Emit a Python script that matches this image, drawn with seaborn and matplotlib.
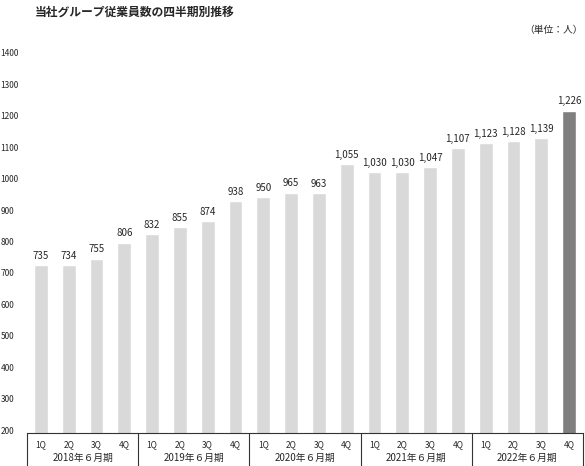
import matplotlib
matplotlib.use("Agg")
import matplotlib.pyplot as plt
import matplotlib.transforms as mtransforms
import pandas as pd
import seaborn as sns

# data
years = ["2018年６月期", "2019年６月期", "2020年６月期", "2021年６月期", "2022年６月期"]
quarters = ["1Q", "2Q", "3Q", "4Q"]
employees = [735, 734, 755, 806,
             832, 855, 874, 938,
             950, 965, 963, 1055,
             1030, 1030, 1047, 1107,
             1123, 1128, 1139, 1226]
y_ticks = [200, 300, 400, 500, 600, 700, 800, 900, 1000, 1100, 1200, 1300, 1400]

sns.set_style("white")
plt.rcParams["font.family"] = ["Noto Sans CJK JP", "DejaVu Sans"]

periods = [f"{y}-{q}" for y in years for q in quarters]
df = pd.DataFrame({"period": periods, "employees": employees})
colors = ["#d9d9d9"] * (len(periods) - 1) + ["#7f7f7f"]

fig = plt.figure(figsize=(5.85, 4.66), dpi=100)
ax = fig.add_axes([27 / 585, 33 / 466, 556 / 585, 377 / 466])

sns.barplot(data=df, x="period", y="employees", hue="period", order=periods,
            palette=colors, width=0.5, legend=False, ax=ax, saturation=1)

ax.set_xlim(-0.5, len(periods) - 0.5)
ax.set_ylim(200, 1400)
ax.set_yticks(y_ticks)
ax.set_yticklabels([str(v) for v in y_ticks], fontsize=6, ha="left")
ax.set_xticks(range(len(periods)))
ax.set_xticklabels(quarters * len(years), fontsize=6)
ax.tick_params(axis="x", length=0, pad=5)
ax.tick_params(axis="y", length=0, pad=19)
ax.set_xlabel("")
ax.set_ylabel("")

# shift y tick labels slightly upward like the original
offset = mtransforms.ScaledTranslation(0, 3 / 100, fig.dpi_scale_trans)
for lbl in ax.get_yticklabels():
    lbl.set_transform(lbl.get_transform() + offset)

for side in ["left", "right", "top"]:
    ax.spines[side].set_visible(False)
ax.spines["bottom"].set_color("#333333")
ax.spines["bottom"].set_linewidth(0.8)

# value labels on top of bars
for i, v in enumerate(employees):
    ax.annotate(f"{v:,}", (i, v), xytext=(0, 3), textcoords="offset points",
                ha="center", va="bottom", fontsize=7)

# bottom box with group separators and year labels
trans = mtransforms.blended_transform_factory(ax.transData, ax.transAxes)
for b in [-0.5, 3.5, 7.5, 11.5, 15.5, 19.5]:
    ax.plot([b, b], [0, -33 / 377], transform=trans, color="#333333",
            lw=0.8, clip_on=False)
for k, y in enumerate(years):
    ax.text(k * 4 + 1.5, -25 / 377, y, transform=trans, ha="center",
            va="center", fontsize=7)

fig.text(35 / 585, 1 - 12 / 466, "当社グループ従業員数の四半期別推移",
         fontsize=8.5, fontweight="bold", ha="left", va="center")
fig.text(583 / 585, 1 - 30 / 466, "（単位：人）", fontsize=7,
         ha="right", va="center")

fig.savefig("out.png", dpi=100)
